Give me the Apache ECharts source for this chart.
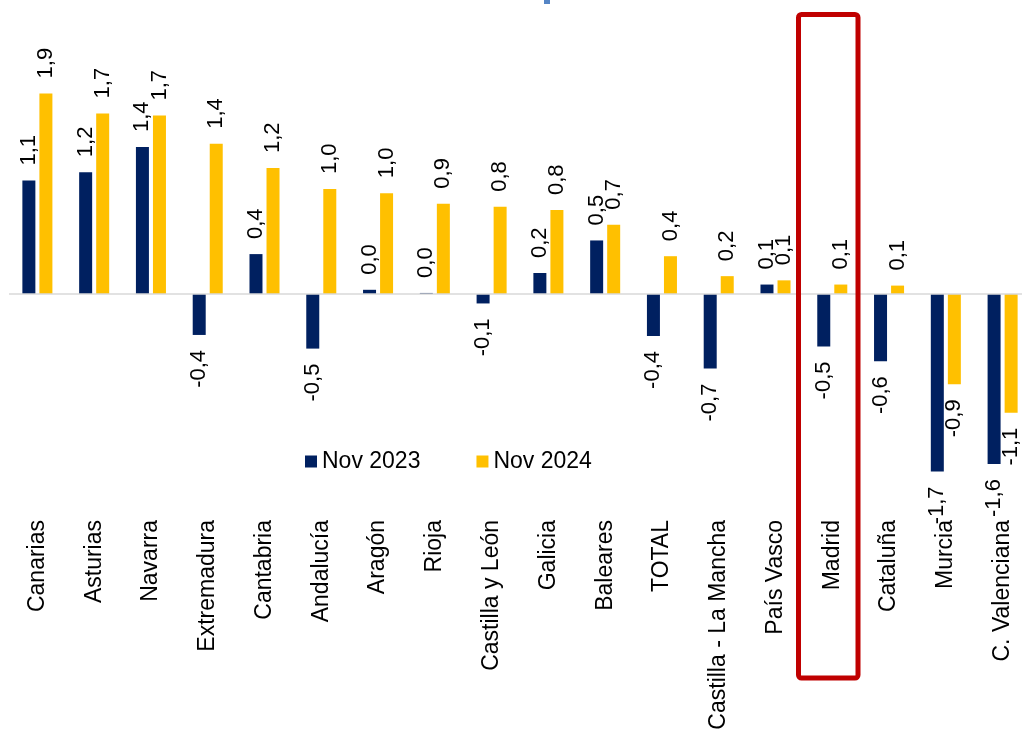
<!DOCTYPE html>
<html>
<head>
<meta charset="utf-8">
<script src="https://cdn.jsdelivr.net/npm/echarts@6/dist/echarts.min.js"></script>
<style>
html,body{margin:0;padding:0;background:#fff;overflow:hidden;}
#chart{width:1040px;height:734px;}
</style>
</head>
<body>
<div id="chart"></div>
<script>
const categories = ['Canarias','Asturias','Navarra','Extremadura','Cantabria','Andalucía','Aragón','Rioja','Castilla y León','Galicia','Baleares','TOTAL','Castilla - La Mancha','País Vasco','Madrid','Cataluña','Murcia','C. Valenciana'];
const nov2023 = [1.08, 1.16, 1.40, -0.39, 0.38, -0.52, 0.04, 0.01, -0.09, 0.20, 0.51, -0.40, -0.71, 0.09, -0.50, -0.64, -1.69, -1.62];
const nov2024 = [1.91, 1.72, 1.70, 1.43, 1.20, 1.00, 0.96, 0.86, 0.83, 0.80, 0.66, 0.36, 0.17, 0.13, 0.09, 0.08, -0.86, -1.13];
const seriesNames = ['Nov 2023', 'Nov 2024'];

const chart = echarts.init(document.getElementById('chart'));
const fmt = p => p.value.toFixed(1).replace('.', ',');
const toData = arr => arr.map(v => ({ value: v, label: { align: v >= 0 ? 'left' : 'right' } }));
const labelCfg = {
  show: true, position: 'outside', rotate: 90, distance: 15,
  verticalAlign: 'middle', formatter: fmt,
  color: '#000', fontSize: 22, fontFamily: 'Liberation Sans, Arial, sans-serif'
};

chart.setOption({
  animation: false,
  backgroundColor: '#fff',
  grid: { left: 9, width: 1022, top: 31.5, height: 472.5, containLabel: false },
  legend: {
    left: 305, top: 450, padding: 0, itemGap: 56,
    itemWidth: 12, itemHeight: 12, icon: 'rect',
    textStyle: { fontSize: 23, color: '#000', fontFamily: 'Liberation Sans, Arial, sans-serif' },
    data: seriesNames
  },
  xAxis: {
    type: 'category', data: categories,
    axisLine: { show: false, onZero: false }, axisTick: { show: false },
    axisLabel: { rotate: 90, margin: 16, interval: 0, color: '#000', fontSize: 23, fontFamily: 'Liberation Sans, Arial, sans-serif' }
  },
  yAxis: {
    type: 'value', min: -2, max: 2.5, show: false,
    splitLine: { show: false }
  },
  series: [
    {
      name: seriesNames[0], type: 'bar', data: toData(nov2023),
      barWidth: 13, barGap: '31%',
      itemStyle: { color: '#002060' },
      label: labelCfg,
      markLine: {
        silent: true, symbol: 'none', label: { show: false },
        lineStyle: { color: '#d9d9d9', type: 'solid', width: 1.5 },
        data: [{ yAxis: 0 }]
      },
      z: 3
    },
    {
      name: seriesNames[1], type: 'bar', data: toData(nov2024),
      barWidth: 13, barGap: '31%',
      itemStyle: { color: '#FFC000' },
      label: labelCfg,
      z: 3
    }
  ],
  graphic: [
    {
      type: 'rect', z: 100,
      shape: { x: 798.5, y: 14.5, width: 59.5, height: 663.5, r: 3 },
      style: { fill: 'none', stroke: '#C00000', lineWidth: 5 }
    },
    {
      type: 'rect', z: 100,
      shape: { x: 544, y: 0, width: 6, height: 4 },
      style: { fill: '#5585C5' }
    }
  ]
});
</script>
</body>
</html>
